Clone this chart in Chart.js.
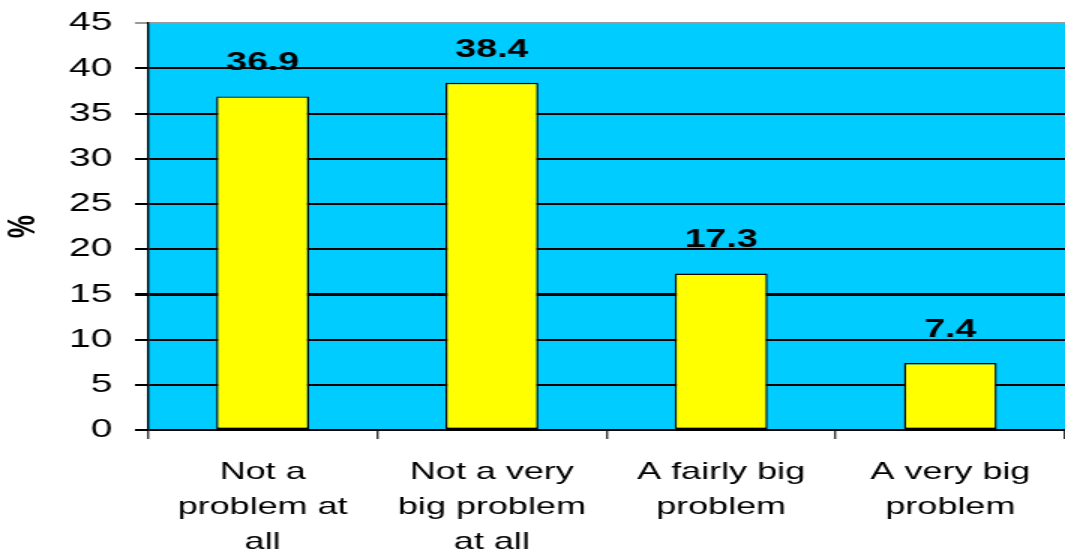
<!DOCTYPE html>
<html>
<head>
<meta charset="utf-8">
<script src="https://cdn.jsdelivr.net/npm/chart.js@4/dist/chart.umd.min.js"></script>
<style>
  html, body { margin: 0; padding: 0; background: #fff; overflow: hidden; }
  /* the original picture is stretched sideways, so draw narrow and widen */
  #wrap { width: 710px; height: 557px; transform: scaleX(1.5); transform-origin: 0 0; }
</style>
</head>
<body>
<div id="wrap"><canvas id="problemChart"></canvas></div>
<script>
// chart data
const categories = [
  ["Not a", "problem at", "all"],
  ["Not a very", "big problem", "at all"],
  ["A fairly big", "problem"],
  ["A very big", "problem"]
]
const percentValues = [36.9, 38.4, 17.3, 7.4]
const yTicks = [0, 5, 10, 15, 20, 25, 30, 35, 40, 45]

const FONT = "'Liberation Sans', Arial, sans-serif"

// cyan plot background
const plotBackground = {
  id: "plotBackground",
  beforeDraw(chart) {
    const { ctx, chartArea } = chart
    ctx.save()
    ctx.fillStyle = "#00ccff"
    ctx.fillRect(chartArea.left, chartArea.top, chartArea.right - chartArea.left, chartArea.bottom - chartArea.top)
    ctx.restore()
  },
}

// value labels above the bars
const valueLabels = {
  id: "valueLabels",
  afterDatasetsDraw(chart) {
    const { ctx } = chart
    const meta = chart.getDatasetMeta(0)
    ctx.save()
    ctx.font = "bold 25px " + FONT
    ctx.fillStyle = "#000"
    ctx.textAlign = "center"
    ctx.textBaseline = "middle"
    meta.data.forEach((bar, i) => {
      ctx.fillText(percentValues[i].toFixed(1), bar.x, bar.y - 33)
    })
    ctx.restore()
  },
}

new Chart(document.getElementById("problemChart"), {
  type: "bar",
  data: {
    labels: categories,
    datasets: [
      {
        data: percentValues,
        backgroundColor: "#ffff00",
        borderColor: "#000",
        borderWidth: 1.4,
        borderSkipped: false,
        categoryPercentage: 1,
        barPercentage: 0.405,
      },
    ],
  },
  options: {
    responsive: true,
    maintainAspectRatio: false,
    animation: false,
    layout: { padding: { top: 0, right: 0, left: 0, bottom: 0 } },
    plugins: {
      legend: { display: false },
      tooltip: { enabled: false },
    },
    scales: {
      x: {
        grid: {
          offset: true,
          drawOnChartArea: false,
          tickLength: 9,
          color: "#333",
          lineWidth: 1.4,
        },
        border: { display: false },
        ticks: {
          color: "#000",
          padding: 16,
          maxRotation: 0,
          autoSkip: false,
          font: { family: FONT, size: 24, lineHeight: 1.46 },
        },
        afterFit(scale) {
          scale.height = 127
        },
      },
      y: {
        min: 0,
        max: 45,
        afterBuildTicks(scale) {
          scale.ticks = yTicks.map((v) => ({ value: v }))
        },
        grid: {
          tickLength: 8.7,
          color: (c) => (c.tick && c.tick.value === 45 ? "#999" : "#000"),
          lineWidth: (c) => (c.tick && c.tick.value === 15 ? 3 : 2),
        },
        border: { display: true, color: "#000", width: 1.4 },
        ticks: {
          color: "#000",
          padding: 15,
          font: { family: FONT, size: 26, lineHeight: 0.63 },
        },
        title: {
          display: true,
          text: "%",
          color: "#000",
          padding: { top: 0, bottom: 0 },
          font: { family: FONT, size: 26, weight: "bold" },
        },
        afterFit(scale) {
          scale.width = 148 / 1.5
        },
      },
    },
  },
  plugins: [plotBackground, valueLabels],
})
</script>
</body>
</html>
